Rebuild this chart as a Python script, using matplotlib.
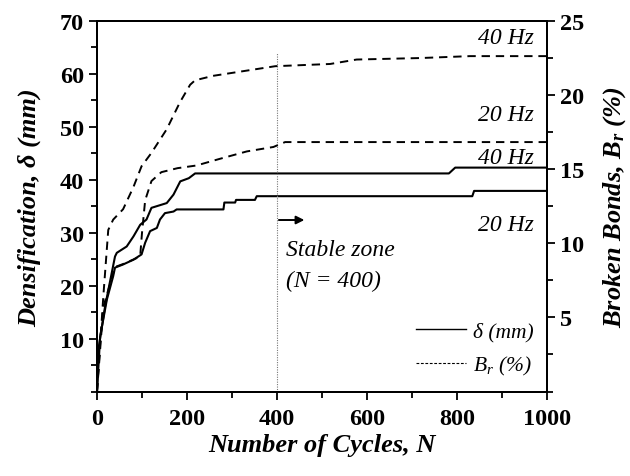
import matplotlib
matplotlib.use("Agg")
import matplotlib.pyplot as plt
from matplotlib.ticker import MultipleLocator, FixedLocator
from matplotlib.lines import Line2D

plt.rcParams['font.family'] = ['Liberation Serif', 'DejaVu Serif']
plt.rcParams['mathtext.fontset'] = 'custom'
plt.rcParams['mathtext.it'] = 'Liberation Serif:italic:bold'
plt.rcParams['mathtext.rm'] = 'Liberation Serif:bold'
plt.rcParams['mathtext.bf'] = 'Liberation Serif:bold'

# Densification (left axis, solid lines)
n_d40 = [0, 3, 18, 40, 44, 66, 81, 96, 110, 121, 155, 170, 185, 204, 218, 782, 796, 1000]
d40 = [0, 7.9, 16.1, 25.5, 26.2, 27.4, 29.3, 31.5, 32.5, 34.7, 35.6, 37.2, 39.7, 40.3, 41.2, 41.2, 42.3, 42.3]
n_d20 = [0, 7, 22, 36, 40, 58, 81, 99, 107, 118, 133, 140, 151, 170, 177, 281, 283, 307, 309, 351, 355, 834, 838, 1000]
d20 = [0, 10.4, 17.4, 21.8, 23.4, 24.0, 24.9, 25.9, 28.1, 30.3, 30.9, 32.5, 33.7, 34.0, 34.4, 34.4, 35.7, 35.7, 36.2, 36.2, 36.9, 36.9, 37.9, 37.9]

# Broken bonds (right axis, dashed lines)
n_b40 = [0, 14, 25, 36, 58, 81, 99, 121, 155, 184, 207, 218, 258, 396, 518, 577, 718, 829, 1000]
b40 = [0, 6.4, 10.9, 11.6, 12.3, 13.8, 15.2, 16.1, 17.7, 19.5, 20.7, 21.0, 21.3, 21.95, 22.1, 22.4, 22.5, 22.63, 22.63]
n_b20 = [0, 14, 40, 58, 88, 96, 100, 107, 121, 143, 179, 221, 273, 333, 392, 418, 1000]
b20 = [0, 5.7, 8.4, 8.6, 9.0, 9.15, 10.7, 12.9, 14.2, 14.8, 15.07, 15.25, 15.7, 16.2, 16.5, 16.83, 16.83]

x_ticks = [0, 200, 400, 600, 800, 1000]
left_ticks = [10, 20, 30, 40, 50, 60, 70]
right_ticks = [5, 10, 15, 20, 25]

fig = plt.figure(figsize=(6.3, 4.77), dpi=100)
ax = fig.add_axes([97/630, (477-392.5)/477, 450/630, (392.5-22)/477])
ax2 = ax.twinx()

ax.plot(n_d40, d40, color='black', lw=1.5)
ax.plot(n_d20, d20, color='black', lw=1.5)
ax2.plot(n_b40, b40, color='black', lw=1.4, ls=(0, (4.3, 3.0)))
ax2.plot(n_b20, b20, color='black', lw=1.4, ls=(0, (4.3, 3.0)))

ax.set_xlim(0, 1000)
ax.set_ylim(0, 70)
ax2.set_ylim(0, 25)

ax.xaxis.set_major_locator(FixedLocator(x_ticks))
ax.xaxis.set_minor_locator(MultipleLocator(100))
ax.yaxis.set_major_locator(FixedLocator(left_ticks))
ax.yaxis.set_minor_locator(MultipleLocator(5))
ax2.yaxis.set_major_locator(FixedLocator(right_ticks))
ax2.yaxis.set_minor_locator(MultipleLocator(2.5))

for a in (ax, ax2):
    a.tick_params(which='major', direction='out', length=6, width=1.3, labelsize=17.5)
    a.tick_params(which='minor', direction='out', length=4, width=1.3)
    for s in a.spines.values():
        s.set_linewidth(1.4)
    for lab in a.get_xticklabels() + a.get_yticklabels():
        lab.set_fontweight('bold')
ax.tick_params(axis='x', pad=6)

ax.set_xlabel('Number of Cycles, N', fontsize=19, fontweight='bold', style='italic', labelpad=3)
ax.set_ylabel('Densification, δ (mm)', fontsize=19, fontweight='bold', style='italic', labelpad=13)
ax2.set_ylabel(r'Broken Bonds, $B_r$ (%)', fontsize=19, fontweight='bold', style='italic', labelpad=12)

# vertical dotted line at N = 400
ax.plot([400, 400], [0, 64], color='#777777', lw=0.8, ls=(0, (1, 1.2)))
ax.annotate('', xy=(467, 32.4), xytext=(398, 32.4),
            arrowprops=dict(arrowstyle='-|>', color='black', lw=1.4, mutation_scale=12))
ax.text(421, 26.9, 'Stable zone', fontsize=17, style='italic', va='center', ha='left')
ax.text(421, 21.0, '(N = 400)', fontsize=17, style='italic', va='center', ha='left')

for y, s in [(66.9, '40 Hz'), (52.4, '20 Hz'), (44.3, '40 Hz'), (31.6, '20 Hz')]:
    ax.text(970, y, s, fontsize=17, style='italic', ha='right', va='center')

handles = [Line2D([], [], color='black', lw=1.0),
           Line2D([], [], color='black', lw=0.8, ls=(0, (2.5, 1.5)))]
leg = ax.legend(handles, ['δ (mm)', r'$\mathregular{B_r}$ (%)'], loc='lower right',
                bbox_to_anchor=(0.995, 0.01), frameon=False, borderpad=0,
                prop={'family': 'Liberation Serif', 'style': 'italic', 'size': 15.5},
                handlelength=2.3, handletextpad=0.35, labelspacing=0.6)

fig.savefig('out.png', dpi=100)
